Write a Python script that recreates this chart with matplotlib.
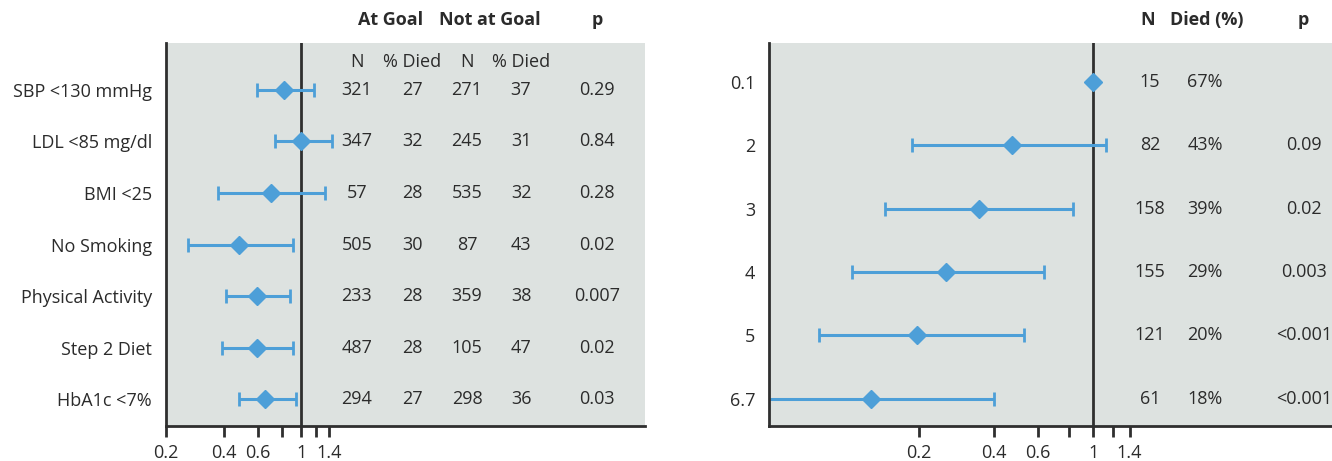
import numpy as np
import matplotlib
matplotlib.use("Agg")
import matplotlib.pyplot as plt
from matplotlib.transforms import blended_transform_factory

plt.rcParams['font.family'] = ['Open Sans', 'DejaVu Sans']

# ---------------------------------------------------------------
# data: left panel (goal attainment)
# ---------------------------------------------------------------
goal_labels = ["SBP <130 mmHg", "LDL <85 mg/dl", "BMI <25", "No Smoking",
               "Physical Activity", "Step 2 Diet", "HbA1c <7%"]
goal_hr = [0.82, 1.0, 0.70, 0.475, 0.59, 0.59, 0.65]
goal_lo = [0.59, 0.73, 0.37, 0.26, 0.41, 0.39, 0.475]
goal_hi = [1.17, 1.45, 1.33, 0.91, 0.875, 0.91, 0.94]
at_goal_n = [321, 347, 57, 505, 233, 487, 294]
at_goal_died = [27, 32, 28, 30, 28, 28, 27]
not_goal_n = [271, 245, 535, 87, 359, 105, 298]
not_goal_died = [37, 31, 32, 43, 38, 47, 36]
goal_p = ["0.29", "0.84", "0.28", "0.02", "0.007", "0.02", "0.03"]

# ---------------------------------------------------------------
# data: right panel (number of goals met)
# ---------------------------------------------------------------
count_labels = ["0.1", "2", "3", "4", "5", "6.7"]
count_hr = [1.0, 0.47, 0.348, 0.257, 0.196, 0.128]
count_lo = [None, 0.187, 0.146, 0.107, 0.079, 0.04]
count_hi = [None, 1.12, 0.83, 0.635, 0.527, 0.40]
count_n = [15, 82, 158, 155, 121, 61]
count_died = ["67%", "43%", "39%", "29%", "20%", "18%"]
count_p = ["", "0.09", "0.02", "0.003", "<0.001", "<0.001"]

tick_vals = [0.2, 0.4, 0.6, 0.8, 1, 1.2, 1.4]
tick_text = ["0.2", "0.4", "0.6", "", "1", "", "1.4"]

BG = "#dde2e0"
BLUE = "#4d9fd8"
DARK = "#2f2f2f"
TXT = "#2b2b2b"
FS = 13

W, H = 1332, 461
fig = plt.figure(figsize=(W / 100, H / 100), dpi=100)


def px(x0, y0, x1, y1):
    return [x0 / W, 1 - y1 / H, (x1 - x0) / W, (y1 - y0) / H]


def style_axis(ax, xlim, ylim):
    ax.set_facecolor(BG)
    ax.set_xscale("log")
    ax.set_xlim(*xlim)
    ax.set_ylim(*ylim)
    for s in ("top", "right"):
        ax.spines[s].set_visible(False)
    for s in ("left", "bottom"):
        ax.spines[s].set_linewidth(2)
        ax.spines[s].set_color(DARK)
    ax.set_xticks(tick_vals)
    ax.set_xticklabels(tick_text)
    ax.xaxis.set_minor_locator(matplotlib.ticker.NullLocator())
    ax.tick_params(axis="x", direction="out", length=8, width=2, color=DARK,
                   labelsize=FS, labelcolor=TXT, pad=5)
    ax.tick_params(axis="y", length=0, labelsize=FS, labelcolor=TXT, pad=10)
    ax.axvline(1, color=DARK, lw=2, zorder=1)


def draw_forest(ax, hr, lo, hi):
    y = np.arange(len(hr))
    for i in range(len(hr)):
        if lo[i] is not None:
            ax.errorbar(hr[i], y[i], xerr=[[hr[i] - lo[i]], [hi[i] - hr[i]]],
                        fmt="none", ecolor=BLUE, elinewidth=2.2, capsize=5,
                        capthick=2, zorder=2)
    ax.plot(hr, y, "D", color=BLUE, ms=9.5, mec=BLUE, zorder=3, clip_on=False)


# left panel
ax1 = fig.add_axes(px(166, 43, 645, 426))
style_axis(ax1, (0.2, 60), (6.52, -0.91))
draw_forest(ax1, goal_hr, goal_lo, goal_hi)
ax1.set_yticks(range(len(goal_labels)))
ax1.set_yticklabels(goal_labels)

tr1 = blended_transform_factory(fig.transFigure, ax1.transData)
cols1 = [357 / W, 412 / W, 467 / W, 521 / W, 597 / W]
for i in range(len(goal_labels)):
    vals = [at_goal_n[i], at_goal_died[i], not_goal_n[i], not_goal_died[i], goal_p[i]]
    for x, v in zip(cols1, vals):
        ax1.text(x, i, str(v), transform=tr1, ha="center", va="center",
                 fontsize=FS, color=TXT)
for x, t in zip(cols1[:4], ["N", "% Died", "N", "% Died"]):
    ax1.text(x, -0.55, t, transform=tr1, ha="center", va="center",
             fontsize=FS, color=TXT)
for x, t in [(391, "At Goal"), (490, "Not at Goal"), (597, "p")]:
    fig.text(x / W, 1 - 20 / H, t, ha="center", va="center", fontsize=FS,
             fontweight="bold", color=TXT)

# right panel
ax2 = fig.add_axes(px(769, 43, 1332, 426))
style_axis(ax2, (0.0498, 9.1), (5.43, -0.615))
draw_forest(ax2, count_hr, count_lo, count_hi)
ax2.set_yticks(range(len(count_labels)))
ax2.set_yticklabels(count_labels)

tr2 = blended_transform_factory(fig.transFigure, ax2.transData)
cols2 = [1150 / W, 1205 / W, 1304 / W]
for i in range(len(count_labels)):
    for x, v in zip(cols2, [count_n[i], count_died[i], count_p[i]]):
        ax2.text(x, i, str(v), transform=tr2, ha="center", va="center",
                 fontsize=FS, color=TXT)
for x, t in [(1148, "N"), (1207, "Died (%)"), (1303, "p")]:
    fig.text(x / W, 1 - 20 / H, t, ha="center", va="center", fontsize=FS,
             fontweight="bold", color=TXT)

fig.savefig("out.png", dpi=100, facecolor="white")
